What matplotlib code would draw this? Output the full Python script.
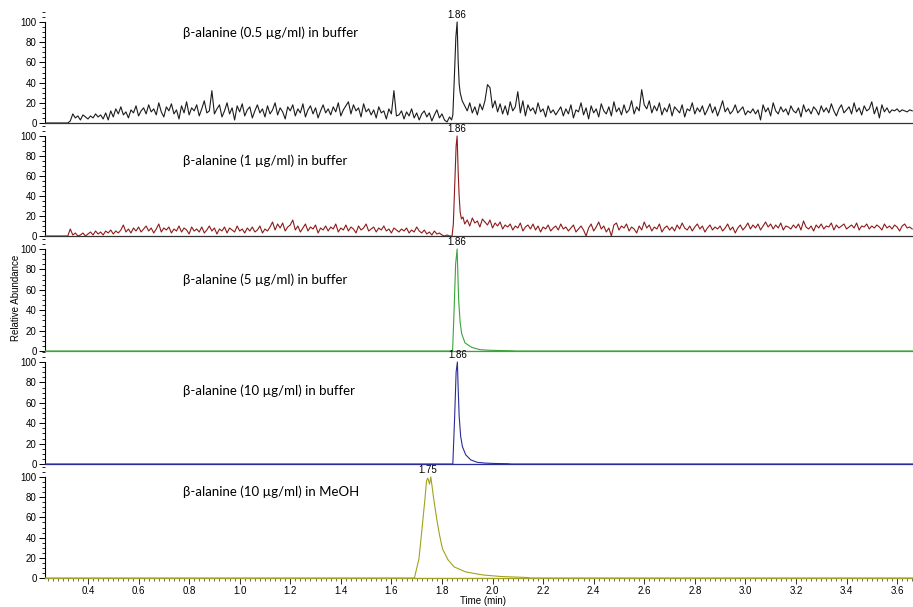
import numpy as np
import matplotlib
matplotlib.use('Agg')
import matplotlib.pyplot as plt
from matplotlib.ticker import MultipleLocator

# scan grid for the noisy runs: 0.01 min steps before and after the peak
PRE_START = 0.23
POST_START = 1.89
STEP = 0.01

# 0.5 ug/ml in buffer
buf05_pre = [0, 0, 0, 0, 0, 0, 0, 0, 0, 0,
             2, 9, 5, 7, 3, 8, 6, 4, 7, 5,
             9, 6, 8, 4, 10, 3, 12, 6, 14, 9,
             16, 8, 11, 5, 13, 10, 17, 7, 12, 15,
             9, 18, 11, 14, 8, 20, 11, 6, 16, 12,
             19, 9, 13, 4, 17, 10, 21, 8, 15, 12,
             18, 7, 14, 22, 10, 12, 32, 9, 14, 18,
             6, 12, 20, 9, 15, 3, 17, 11, 19, 7,
             13, 16, 5, 12, 18, 10, 14, 6, 17, 9,
             13, 20, 8, 15, 11, 4, 16, 12, 18, 7,
             14, 10, 19, 6, 13, 17, 9, 15, 5, 12,
             18, 10, 14, 8, 16, 11, 20, 7, 13, 17,
             21, 9, 18, 12, 15, 6, 19, 11, 14, 8,
             13, 5, 16, 10, 12, 4, 14, 9, 32, 7,
             8, 12, 4, 11, 7, 14, 5, 10, 3, 9,
             12, 6, 10, 2, 8, 13, 5, 9, 3, 1,
             6]
buf05_peak_t = [1.838, 1.843, 1.849, 1.855, 1.860, 1.864, 1.868, 1.872, 1.876, 1.880]
buf05_peak_v = [3, 8, 45, 85, 100, 62, 39, 30, 26, 22]
buf05_post = [17, 12, 20, 10, 16, 8, 19, 13, 22, 38,
              35, 15, 22, 11, 19, 9, 17, 8, 21, 12,
              16, 31, 10, 22, 7, 18, 12, 15, 9, 20,
              11, 14, 6, 17, 10, 13, 8, 12, 16, 7,
              14, 9, 18, 5, 13, 11, 20, 8, 15, 4,
              17, 10, 14, 6, 19, 12, 9, 16, 7, 21,
              11, 15, 8, 18, 10, 13, 22, 9, 16, 12,
              33, 18, 14, 22, 10, 17, 12, 20, 8, 15,
              11, 19, 7, 16, 13, 10, 18, 6, 14, 12,
              20, 9, 15, 11, 17, 8, 13, 19, 10, 16,
              7, 14, 22, 11, 15, 9, 12, 18, 10, 13,
              16, 8, 12, 10, 14, 9, 13, 3, 18, 11,
              15, 7, 20, 12, 9, 16, 11, 14, 8, 17,
              12, 10, 15, 6, 18, 11, 14, 9, 16, 13,
              8, 17, 11, 15, 10, 19, 12, 7, 14, 18,
              10, 13, 16, 9, 20, 11, 15, 8, 17, 12,
              14, 21, 9, 16, 5, 18, 11, 15, 10, 13,
              12, 14, 11, 13, 12, 11, 13, 12]

# 1 ug/ml in buffer
buf1_pre = [0, 0, 0, 0, 0, 0, 0, 0, 0, 0,
            7, 1, 3, 0, 1, 3, 0, 2, 4, 1,
            5, 2, 4, 1, 5, 3, 6, 2, 5, 3,
            6, 11, 4, 7, 3, 8, 5, 9, 4, 7,
            10, 5, 8, 3, 7, 12, 4, 8, 6, 9,
            3, 7, 5, 10, 4, 8, 6, 2, 9, 5,
            7, 4, 9, 3, 6, 10, 5, 8, 2, 7,
            5, 9, 3, 8, 6, 4, 10, 5, 7, 3,
            8, 5, 9, 4, 6, 10, 3, 7, 5, 9,
            14, 6, 12, 8, 13, 5, 9, 11, 16, 6,
            10, 4, 8, 12, 5, 9, 7, 11, 3, 8,
            6, 10, 5, 9, 7, 12, 4, 8, 6, 11,
            5, 9, 7, 3, 10, 6, 8, 12, 5, 7,
            9, 4, 8, 6, 10, 5, 7, 3, 8, 6,
            4, 7, 5, 8, 3, 6, 4, 9, 5, 3,
            6, 2, 4, 1, 5, 2, 3, 1, 0, 1,
            0]
buf1_peak_t = [1.840, 1.845, 1.851, 1.856, 1.860, 1.864, 1.868, 1.872, 1.877, 1.883]
buf1_peak_v = [0, 12, 55, 90, 100, 65, 40, 24, 17, 19]
buf1_post = [12, 16, 10, 18, 13, 15, 9, 17, 14, 11,
             16, 8, 13, 10, 14, 7, 11, 9, 12, 6,
             10, 8, 13, 5, 9, 11, 7, 12, 6, 10,
             4, 9, 7, 11, 5, 8, 10, 6, 12, 7,
             9, 5, 8, 11, 4, 7, 10, 6, 0, 8,
             12, 5, 9, 14, 7, 10, 4, 8, 0, 11,
             13, 6, 10, 8, 12, 5, 9, 7, 3, 10,
             6, 14, 8, 11, 5, 9, 7, 12, 4, 8,
             10, 6, 9, 5, 11, 7, 13, 8, 6, 10,
             5, 9, 12, 7, 10, 4, 8, 11, 6, 9,
             7, 10, 5, 8, 12, 6, 9, 3, 8, 11,
             6, 9, 13, 7, 11, 8, 12, 6, 10, 14,
             9, 12, 7, 11, 8, 13, 6, 10, 9, 7,
             11, 8, 12, 6, 15, 9, 7, 10, 5, 11,
             8, 12, 7, 10, 9, 13, 6, 11, 8, 10,
             12, 7, 9, 11, 8, 13, 6, 10, 9, 12,
             7, 10, 8, 11, 9, 6, 12, 8, 10, 7,
             11, 9, 5, 10, 12, 8, 9, 7]

# 5 ug/ml in buffer
buf5_t = [0.23, 1.842, 1.848, 1.854, 1.860, 1.863, 1.866, 1.872, 1.878, 1.891,
          1.918, 1.951, 1.990, 2.040, 2.080, 2.090, 3.663]
buf5_v = [0, 0, 40, 85, 100, 75, 50, 28, 17, 8,
          3.5, 1.3, 0.7, 0.4, 0.2, 0, 0]

# 10 ug/ml in buffer
buf10_t = [0.23, 1.843, 1.850, 1.856, 1.861, 1.864, 1.868, 1.874, 1.881, 1.894,
           1.914, 1.939, 1.970, 2.010, 2.060, 2.075, 3.663]
buf10_v = [0, 0, 45, 90, 100, 75, 47, 27, 17, 9,
           4, 1.7, 0.9, 0.5, 0.3, 0, 0]

# 10 ug/ml in MeOH
meoh_t = [0.23, 1.691, 1.709, 1.720, 1.733, 1.739, 1.744, 1.751, 1.756, 1.767,
          1.779, 1.790, 1.802, 1.824, 1.848, 1.894, 1.962, 2.032, 2.137, 2.150, 3.663]
meoh_v = [0, 0, 19, 46, 79, 96, 99, 93, 100, 79,
          59, 43, 29, 18, 11, 6, 3, 1.5, 0.5, 0, 0]

titles = ['β-alanine (0.5 µg/ml) in buffer',
          'β-alanine (1 µg/ml) in buffer',
          'β-alanine (5 µg/ml) in buffer',
          'β-alanine (10 µg/ml) in buffer',
          'β-alanine (10 µg/ml) in MeOH']
peak_labels = ['1.86', '1.86', '1.86', '1.86', '1.75']
peak_times = [1.860, 1.860, 1.860, 1.861, 1.745]
title_y = [89, 75, 70, 72, 85]
colors = ['#1c1c1c', '#8e1b1b', '#3aa53a', '#2b2b9c', '#a2a21e']
# bottom line colour: the clean runs sit on their own baseline
axis_colors = ['#333333', '#333333', '#3aa53a', '#2b2b9c', '#a2a21e']
# integration baseline under the peak (start, end), none for the noisy runs
baselines = [None, None, (1.842, 1.99), (1.843, 2.02), (1.691, 2.0)]


def build_trace(pre, peak_t, peak_v, post):
    t_pre = np.round(PRE_START + STEP * np.arange(len(pre)), 3)
    t_post = np.round(POST_START + STEP * np.arange(len(post)), 3)
    t = np.concatenate([t_pre, peak_t, t_post])
    v = np.concatenate([pre, peak_v, post])
    return t, v


traces = [build_trace(buf05_pre, buf05_peak_t, buf05_peak_v, buf05_post),
          build_trace(buf1_pre, buf1_peak_t, buf1_peak_v, buf1_post),
          (np.array(buf5_t), np.array(buf5_v)),
          (np.array(buf10_t), np.array(buf10_v)),
          (np.array(meoh_t), np.array(meoh_v))]

W, H = 913, 607
# pixel rows of the 0 and 100 levels for each panel
levels = [(123, 22), (236, 136), (351, 249), (464, 362), (578, 477)]
tick_font = ['Liberation Sans', 'DejaVu Sans']
title_font = ['Lato', 'DejaVu Sans']

fig = plt.figure(figsize=(W / 100, H / 100), dpi=100)

for i in range(5):
    zero, hundred = levels[i]
    ax = fig.add_axes([45 / W, (H - zero) / H, (W - 45) / W, (zero - hundred) * 1.12 / H])
    ax.patch.set_visible(False)
    t, v = traces[i]
    ax.plot(t, v, color=colors[i], lw=0.8, zorder=3)
    if baselines[i] is not None:
        ax.plot(baselines[i], [0, 0], color='#404040', lw=0.8, zorder=4)

    ax.set_xlim(0.23, 3.663)
    ax.set_ylim(0, 112)
    for s in ['top', 'right']:
        ax.spines[s].set_visible(False)
    ax.spines['left'].set_bounds(0, 100)
    ax.spines['left'].set_linewidth(0.8)
    ax.spines['bottom'].set_linewidth(0.9)
    ax.spines['bottom'].set_color(axis_colors[i])

    ax.yaxis.set_major_locator(MultipleLocator(20))
    ax.yaxis.set_minor_locator(MultipleLocator(5))
    ax.tick_params(axis='y', which='major', length=4, width=0.7, labelsize=7, pad=2)
    ax.tick_params(axis='y', which='minor', length=2, width=0.6)
    for lab in ax.get_yticklabels():
        lab.set_family(tick_font)

    if i < 4:
        ax.tick_params(axis='x', which='both', bottom=False, labelbottom=False)
    else:
        ax.xaxis.set_major_locator(MultipleLocator(0.2))
        ax.xaxis.set_minor_locator(MultipleLocator(0.02))
        ax.xaxis.set_major_formatter('{x:.1f}')
        ax.tick_params(axis='x', which='major', length=4, width=0.7, labelsize=7,
                       pad=2, color='#333333')
        ax.tick_params(axis='x', which='minor', length=2, width=0.5, color='#333333')
        for lab in ax.get_xticklabels():
            lab.set_family(tick_font)

    ax.text(peak_times[i], 102, peak_labels[i], ha='center', va='bottom',
            fontsize=7, family=tick_font)
    ax.text(0.776, title_y[i], titles[i], ha='left', va='center',
            fontsize=9.5, family=title_font)

fig.text(16 / W, 1 - 298 / H, 'Relative Abundance', rotation=90,
         ha='center', va='center', fontsize=7, family=tick_font)
fig.text(483 / W, 1 - 601 / H, 'Time (min)', ha='center', va='center',
         fontsize=7, family=tick_font)

fig.savefig('out.png', dpi=100)
